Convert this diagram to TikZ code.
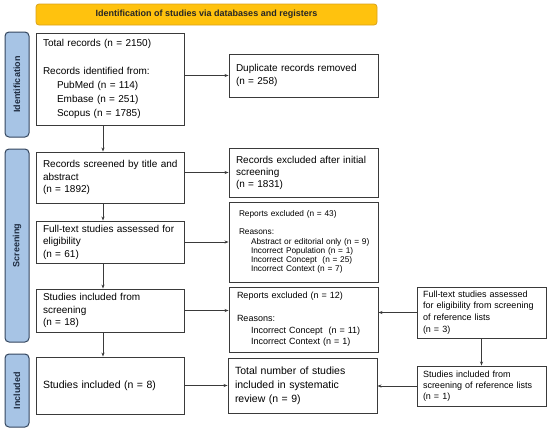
\documentclass[tikz,border=0pt]{standalone}
\usepackage{fontspec}
\setmainfont{Liberation Sans}
\usetikzlibrary{arrows.meta,calc}
\definecolor{banfill}{HTML}{FFC20E}
\definecolor{banline}{HTML}{D9A21A}
\definecolor{labfill}{HTML}{A7C4E5}
\definecolor{labline}{HTML}{34465E}
\definecolor{labtext}{HTML}{1E2B40}
\definecolor{boxline}{HTML}{3A3A3A}
\newcommand\fsz[2]{\fontsize{#1}{#2}\selectfont}
\begin{document}
\begin{tikzpicture}[x=1pt,y=-1pt,
  box/.style={draw=boxline, line width=0.9pt, fill=white, align=left, inner ysep=0pt},
  lab/.style={draw=labline, line width=1pt, fill=labfill, rounded corners=4pt, rotate=90,
    font=\bfseries\fsz{9}{11}, text=labtext, inner sep=0pt, minimum height=24pt},
  arr/.style={-{Stealth[length=4pt,width=3pt]}, draw=boxline, line width=0.6pt}]
\useasboundingbox (0,0) rectangle (550,432);

\node[draw=banline, line width=0.8pt, fill=banfill, rounded corners=3pt,
  minimum width=341pt, minimum height=21pt, inner sep=0pt,
  font=\bfseries\fsz{9}{11}, text=black!85] (ban) at (206.5,14.5)
  {Identification of studies via databases and registers};

\node[lab, minimum width=105pt] (lid) at (17,84.5) {Identification};
\node[lab, minimum width=193pt] (lsc) at (17,245.5) {Screening};
\node[lab, minimum width=73pt] (lin) at (17,390.5) {Included};

\node[box, text width=134pt, inner xsep=7pt, minimum height=92pt, font=\fsz{10}{14}] (b1) at (110,79)
 {\mbox{Total records (n = 2150)}\\[14pt]
  \mbox{Records identified from:}\\
  \hspace*{14pt}PubMed (n = 114)\\
  \hspace*{14pt}Embase (n = 251)\\
  \hspace*{14pt}Scopus (n = 1785)};

\node[box, text width=135pt, inner xsep=7pt, minimum height=43pt, font=\fsz{10}{12.7}] (dup) at (303.5,75.5)
 {\mbox{Duplicate records removed}\\(n = 258)};

\node[box, text width=134pt, inner xsep=7pt, minimum height=51pt, font=\fsz{10}{12.5}] (b2) at (110,177.5)
 {\mbox{Records screened by title and}\\abstract\\(n = 1892)};

\node[box, text width=135pt, inner xsep=7pt, minimum height=49pt, font=\fsz{10}{12}] (exc1) at (303.5,172.5)
 {\mbox{Records excluded after initial}\\screening\\(n = 1831)};

\node[box, text width=134pt, inner xsep=7pt, minimum height=42pt, font=\fsz{10}{12.5}] (b3) at (110,242)
 {\mbox{Full-text studies assessed for}\\eligibility\\(n = 61)};

\node[box, text width=129pt, inner xsep=10pt, minimum height=80pt, font=\fsz{8.3}{9.2}] (exc2) at (303.5,242)
 {\mbox{Reports excluded (n = 43)}\\[9.2pt]
  Reasons:\\
  \hspace*{12pt}\mbox{Abstract or editorial only (n = 9)}\\
  \hspace*{12pt}\mbox{Incorrect Population (n = 1)}\\
  \hspace*{12pt}\mbox{Incorrect Concept~ (n = 25)}\\
  \hspace*{12pt}\mbox{Incorrect Context (n = 7)}};

\node[box, text width=134pt, inner xsep=7pt, minimum height=43pt, font=\fsz{10}{12.5}] (b4) at (110,310.5)
 {\mbox{Studies included from}\\screening\\(n = 18)};

\node[box, text width=133pt, inner xsep=8pt, minimum height=65pt, font=\fsz{9}{11.5}] (exc3) at (303.5,319.5)
 {\mbox{Reports excluded (n = 12)}\\[11.5pt]
  Reasons:\\
  \hspace*{14pt}\mbox{Incorrect Concept~ (n = 11)}\\
  \hspace*{14pt}\mbox{Incorrect Context (n = 1)}};

\node[box, text width=117pt, inner xsep=6pt, minimum height=51pt, font=\fsz{9}{11.7}] (ref1) at (481.5,312.5)
 {\mbox{Full-text studies assessed}\\\mbox{for eligibility from screening}\\\mbox{of reference lists}\\(n = 3)};

\node[box, text width=134pt, inner xsep=7pt, minimum height=57pt, font=\fsz{10.5}{13}] (b5) at (110,385.5)
 {\mbox{Studies included (n = 8)}};

\node[box, text width=135pt, inner xsep=7pt, minimum height=55pt, font=\fsz{10.5}{13.8}] (tot) at (302.5,385.5)
 {\mbox{Total number of studies}\\\mbox{included in systematic}\\\mbox{review (n = 9)}};

\node[box, text width=117pt, inner xsep=6pt, minimum height=40pt, font=\fsz{9}{11}] (ref2) at (481.5,386)
 {\mbox{Studies included from}\\\mbox{screening of reference lists}\\(n = 1)};

\draw[arr] (b1.east |- dup.west) -- (dup.west);
\draw[arr] (b2.east |- exc1.west) -- (exc1.west);
\draw[arr] (b3.east) -- (exc2.west);
\draw[arr] (b4.east) -- (b4.east -| exc3.west);
\draw[arr] (ref1.west) -- (ref1.west -| exc3.east);
\draw[arr] (b5.east) -- (tot.west);
\draw[arr] (ref2.west) -- (ref2.west -| tot.east);
\draw[arr] (ref1.south) -- (ref2.north);
\draw[arr] ([xshift=-7pt]b1.south) -- ([xshift=-7pt]b2.north);
\draw[arr] ([xshift=-7pt]b2.south) -- ([xshift=-7pt]b3.north);
\draw[arr] ([xshift=-7pt]b3.south) -- ([xshift=-7pt]b4.north);
\draw[arr] ([xshift=-7pt]b4.south) -- ([xshift=-7pt]b5.north);
\end{tikzpicture}
\end{document}
